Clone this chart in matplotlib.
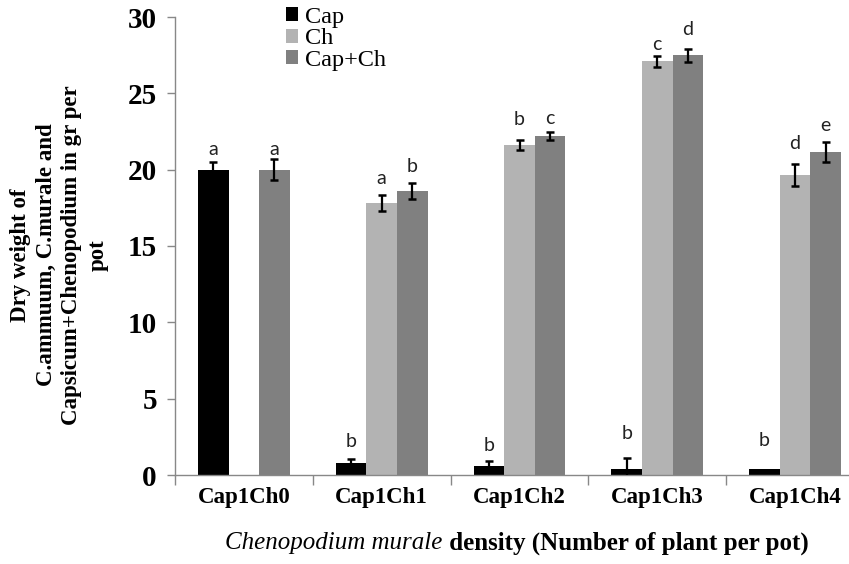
import matplotlib
matplotlib.use("Agg")
import matplotlib.pyplot as plt
import numpy as np
from matplotlib.patches import Patch

categories = ["Cap1Ch0", "Cap1Ch1", "Cap1Ch2", "Cap1Ch3", "Cap1Ch4"]
series_names = ["Cap", "Ch", "Cap+Ch"]
cap_vals = [20.0, 0.80, 0.61, 0.40, 0.37]
cap_err = [0.5, 0.28, 0.33, 0.70, 0.0]
ch_vals = [0.0, 17.8, 21.6, 27.1, 19.65]
ch_err = [0.0, 0.53, 0.33, 0.36, 0.73]
both_vals = [20.0, 18.6, 22.2, 27.48, 21.17]
both_err = [0.7, 0.52, 0.27, 0.40, 0.67]
cap_letters = ["a", "b", "b", "b", "b"]
ch_letters = ["", "a", "b", "c", "d"]
both_letters = ["a", "b", "c", "d", "e"]
# vertical offset of letters above error bar (data units)
cap_off = [0.8, 1.14, 1.0, 1.65, 1.9]
ch_off = [0.0, 1.07, 1.37, 0.73, 1.32]
both_off = [0.6, 1.08, 0.9, 1.32, 1.06]
yticks = [0, 5, 10, 15, 20, 25, 30]

colors = ["#000000", "#b3b3b3", "#808080"]

W, H = 849, 564
fig = plt.figure(figsize=(W / 100, H / 100), dpi=100)
ax = fig.add_axes([175 / W, 1 - 475 / H, 689 / W, (475 - 17) / H])

x = np.arange(len(categories))
bw = 0.222
serif = "Liberation Serif"
sans = ["Lato", "Open Sans", "DejaVu Sans"]

vals = [cap_vals, ch_vals, both_vals]
errs = [cap_err, ch_err, both_err]
lets = [cap_letters, ch_letters, both_letters]
offs = [cap_off, ch_off, both_off]
for i in range(3):
    xs = x + (i - 1) * bw
    v = np.array(vals[i])
    e = np.array(errs[i])
    ax.bar(xs, v, width=bw, color=colors[i], edgecolor="none", zorder=2)
    mask = e > 0
    ax.errorbar(xs[mask], v[mask], yerr=e[mask], fmt="none", ecolor="black",
                elinewidth=1.6, capsize=3.2, capthick=1.8, zorder=3)
    for j in range(len(categories)):
        if lets[i][j]:
            ax.text(xs[j], v[j] + e[j] + offs[i][j], lets[i][j], ha="center",
                    va="center", fontsize=14, family=sans, color="#222222", zorder=4)

ax.set_ylim(0, 30)
ax.set_xlim(-0.5, len(categories) - 0.5)
ax.set_yticks(yticks)
ax.set_yticklabels([str(t) for t in yticks], fontsize=21, fontweight="bold", family=serif)
ax.set_xticks(x)
ax.set_xticklabels(categories, fontsize=16.5, fontweight="bold", family=serif)
ax.set_xticks(np.arange(-0.5, len(categories), 1.0), minor=True)
ax.tick_params(axis="x", which="major", length=0, pad=9)
ax.tick_params(axis="x", which="minor", length=7, color="#888888", width=1)
ax.tick_params(axis="y", which="major", length=6, color="#888888", width=1, pad=7)
for s in ["top", "right"]:
    ax.spines[s].set_visible(False)
for s in ["left", "bottom"]:
    ax.spines[s].set_color("#888888")
    ax.spines[s].set_linewidth(1)

# y label
fig.text(59 / W, 1 - 255 / H,
         "Dry weight of\nC.ammuum, C.murale and\nCapsicum+Chenopodium in gr per\npot",
         rotation=90, ha="center", va="center", fontsize=16.5, fontweight="bold",
         family=serif, linespacing=1.3)

# x label (mixed italic + bold), centred at x=517 px
fs_x = 18
t1 = fig.text(0, 1 - 543 / H, "Chenopodium murale", fontsize=fs_x,
              fontstyle="italic", family=serif, ha="left", va="center")
t2 = fig.text(0, 1 - 543 / H, " density (Number of plant per pot)", fontsize=fs_x,
              fontweight="bold", family=serif, ha="left", va="center")
fig.canvas.draw()
r = fig.canvas.get_renderer()
w1 = t1.get_window_extent(r).width
w2 = t2.get_window_extent(r).width
start = 517 - (w1 + w2) / 2
t1.set_x(start / W)
t2.set_x((start + w1) / W)

handles = [Patch(facecolor=c, edgecolor="none") for c in colors]
leg = fig.legend(handles, series_names, loc="upper left",
                 bbox_to_anchor=(286 / W, 1 - 7 / H), frameon=False,
                 prop={"family": serif, "size": 17.5}, handlelength=0.5,
                 handleheight=0.5, handletextpad=0.3, labelspacing=0.02,
                 borderpad=0.0, borderaxespad=0.0)

fig.savefig("out.png", dpi=100)
